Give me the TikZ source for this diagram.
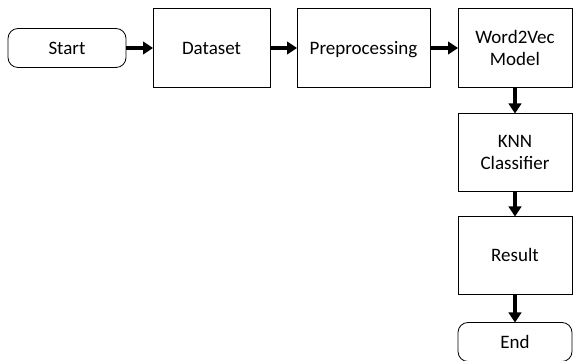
\documentclass[tikz,border=0pt]{standalone}
\usepackage{fontspec}
\setmainfont{Carlito}
\usetikzlibrary{positioning,arrows.meta}

\tikzset{
    box/.style={draw, line width=0.8pt, minimum width=117pt, minimum height=79pt,
        inner sep=0pt, outer sep=0pt, align=center,
        text height=12.2pt, text depth=0pt,
        font=\fontsize{19}{22}\selectfont},
    twolines/.style={text height=34.2pt},
    terminal/.style={box, rounded corners=10pt, minimum height=39pt},
    flow/.style={line width=3.4pt, -{Triangle[length=10pt,width=12.5pt]}},
}

\begin{document}
\begin{tikzpicture}[x=1pt, y=1pt]
        \useasboundingbox (0,0) rectangle (573,361);
        % top row
        \node[terminal, minimum width=118pt] (start) at (67,313) {Start};
        \node[box, right=27pt of start] (dataset) {Dataset};
        \node[box, minimum width=133pt, right=27pt of dataset] (prep) {Preprocessing};
        \node[box, twolines, minimum width=114pt, right=28pt of prep] (w2v) {Word2Vec\\Model};
        % right column
        \node[box, twolines, minimum width=114pt, minimum height=78pt, below=26pt of w2v] (knn) {KNN\\Classifier};
        \node[box, minimum width=114pt, minimum height=78pt, below=25pt of knn] (result) {Result};
        \node[terminal, minimum width=114pt, below=28pt of result] (end) {End};

        \draw[flow] (start) -- (dataset);
        \draw[flow] (dataset) -- (prep);
        \draw[flow] (prep) -- (w2v);
        \draw[flow] (w2v) -- (knn);
        \draw[flow] (knn) -- (result);
        \draw[flow] (result) -- (end);
    \end{tikzpicture}
\end{document}
